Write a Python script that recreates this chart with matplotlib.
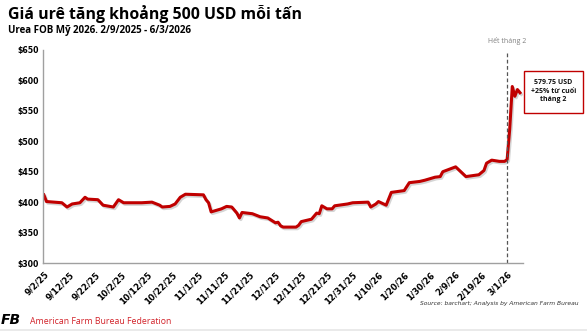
import pandas as pd
import numpy as np
import matplotlib
matplotlib.use("Agg")
import matplotlib.pyplot as plt
import matplotlib.patheffects as pe
from matplotlib.patches import Rectangle

# urea FOB price
dates = ["2025-09-02", "2025-09-03", "2025-09-09", "2025-09-11", "2025-09-13", "2025-09-16",
         "2025-09-18", "2025-09-19", "2025-09-23", "2025-09-25", "2025-09-29", "2025-10-01",
         "2025-10-03", "2025-10-10", "2025-10-14", "2025-10-17", "2025-10-18", "2025-10-21",
         "2025-10-23", "2025-10-25", "2025-10-27", "2025-11-03", "2025-11-04", "2025-11-05",
         "2025-11-06", "2025-11-10", "2025-11-12", "2025-11-14", "2025-11-16", "2025-11-17",
         "2025-11-18", "2025-11-22", "2025-11-25", "2025-11-28", "2025-12-01", "2025-12-02",
         "2025-12-03", "2025-12-04", "2025-12-09", "2025-12-10", "2025-12-11", "2025-12-15",
         "2025-12-17", "2025-12-18", "2025-12-19", "2025-12-21", "2025-12-23", "2025-12-24",
         "2025-12-29", "2025-12-31", "2026-01-06", "2026-01-07", "2026-01-09", "2026-01-10",
         "2026-01-13", "2026-01-15", "2026-01-20", "2026-01-22", "2026-01-26", "2026-01-28",
         "2026-02-01", "2026-02-03", "2026-02-04", "2026-02-09", "2026-02-11", "2026-02-13",
         "2026-02-18", "2026-02-20", "2026-02-21", "2026-02-23", "2026-02-26", "2026-02-28",
         "2026-03-01", "2026-03-02", "2026-03-03", "2026-03-04", "2026-03-05", "2026-03-06"]
prices = [412, 401, 399, 392, 397, 399,
          408, 405, 404, 395, 392, 404,
          399, 399, 400, 395, 392, 393,
          397, 408, 413, 412, 404, 399,
          384, 389, 393, 392, 382, 374,
          383, 381, 376, 374, 366, 367,
          361, 359, 359, 362, 368, 372,
          382, 381, 394, 389, 389, 394,
          397, 399, 400, 392, 397, 401,
          395, 416, 419, 432, 434, 436,
          441, 442, 450, 458, 450, 442,
          445, 452, 464, 469, 467, 467,
          470, 520, 590, 574, 585, 579.75]

tick_labels = ["9/2/25", "9/12/25", "9/22/25", "10/2/25", "10/12/25", "10/22/25", "11/1/25",
               "11/11/25", "11/21/25", "12/1/25", "12/11/25", "12/21/25", "12/31/25", "1/10/26",
               "1/20/26", "1/30/26", "2/9/26", "2/19/26", "3/1/26"]
y_ticks = [300, 350, 400, 450, 500, 550, 600, 650]

end_feb = "2026-03-01"
last_label = "579.75 USD\n+25% từ cuối\ntháng 2"

RED = "#C00000"
FONTS = ["Open Sans", "DejaVu Sans"]

x = pd.to_datetime(dates)
ticks = pd.to_datetime(tick_labels, format="%m/%d/%y")

fig = plt.figure(figsize=(5.87, 3.32), dpi=100)
ax = fig.add_axes([43/587, 1 - 263/332, 480/587, 213/332])

ax.plot(x, prices, color=RED, lw=2.2, solid_joinstyle="round",
        path_effects=[pe.SimpleLineShadow(offset=(1, -1.2), shadow_color="#888888", alpha=0.35),
                      pe.Normal()])

ax.set_ylim(300, 650)
ax.set_yticks(y_ticks)
ax.set_yticklabels([f"${v}" for v in y_ticks], fontsize=5.6, fontweight="bold")
ax.set_xlim(x[0] - pd.Timedelta(hours=8), pd.Timestamp("2026-03-07 04:00"))
ax.set_xticks(ticks)
ax.set_xticklabels(tick_labels, fontsize=6.1, fontweight="bold", rotation=45,
                   ha="right", va="top", rotation_mode="anchor")
ax.tick_params(length=0, pad=3)
ax.tick_params(axis="x", pad=5)
for s in ["top", "right"]:
    ax.spines[s].set_visible(False)
for s in ["left", "bottom"]:
    ax.spines[s].set_color("#A0A0A0")
    ax.spines[s].set_linewidth(1.0)

# end of February marker
ax.plot([pd.Timestamp(end_feb)] * 2, [300, 645], color="#555555", lw=0.9, ls=(0, (3, 2)))
fig.text(507/587, 1 - 41/332, "Hết tháng 2", fontsize=5.0, color="#808080",
         ha="center", va="center", family=FONTS)

# callout box
fig.patches.append(Rectangle((524/587, 1 - 113/332), 59/587, 42/332, transform=fig.transFigure,
                             fill=False, edgecolor=RED, lw=1.0))
fig.text(553.5/587, 1 - 91/332, last_label, fontsize=5.0, fontweight="bold", color="#111111",
         ha="center", va="center", linespacing=1.3, family=FONTS)

# titles
fig.text(8/587, 1 - 14/332, "Giá urê tăng khoảng 500 USD mỗi tấn", fontsize=11.4,
         fontweight="bold", ha="left", va="center", family=FONTS)
fig.text(8/587, 1 - 31/332, "Urea FOB Mỹ 2026. 2/9/2025 - 6/3/2026", fontsize=7.0,
         fontweight="bold", ha="left", va="center", family=FONTS)

# footer
fig.text(578/587, 1 - 303/332, "Source: barchart; Analysis by American Farm Bureau", fontsize=4.3,
         style="italic", color="#333333", ha="right", va="center")
fig.text(1/587, 1 - 320/332, "FB", fontsize=10, fontweight="heavy", style="italic",
         color="black", ha="left", va="center", family=["DejaVu Sans"])
fig.text(30/587, 1 - 321/332, "American Farm Bureau Federation", fontsize=6.3, color="#D2232A",
         ha="left", va="center", family=FONTS)
fig.add_artist(plt.Line2D([0, 1], [1 - 329.5/332] * 2, transform=fig.transFigure,
                          color="#E6E6E6", lw=1.2))

fig.savefig("out.png", dpi=100)
